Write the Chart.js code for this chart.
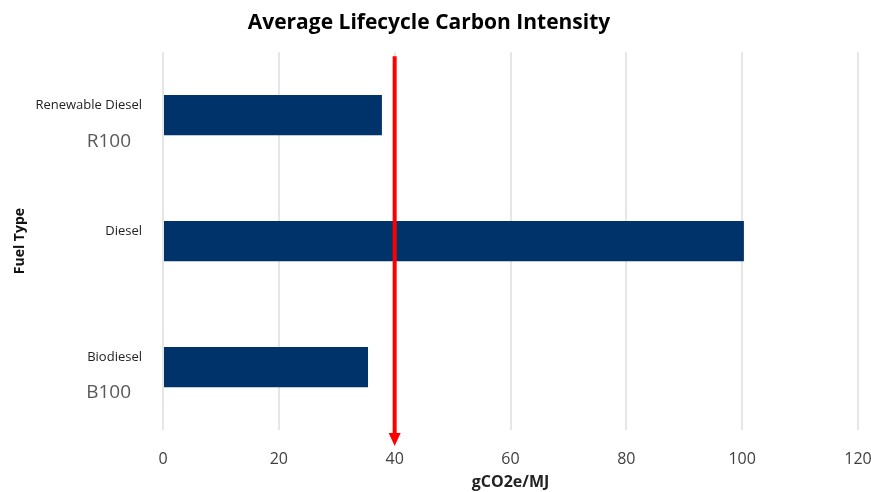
<!DOCTYPE html>
<html>
<head>
<meta charset="utf-8">
<script src="https://cdn.jsdelivr.net/npm/chart.js@4"></script>
<style>
  html, body { margin: 0; padding: 0; background: #fff; }
  #wrap { width: 871px; height: 492px; }
</style>
</head>
<body>
<div id="wrap"><canvas id="chart"></canvas></div>
<script>
const fuelTypes = ['Renewable Diesel', 'Diesel', 'Biodiesel'];
const blendLabels = ['R100', '', 'B100'];
const carbonIntensity = [37.8, 100.3, 35.4];
const targetValue = 40;
const xTicks = [0, 20, 40, 60, 80, 100, 120];

const FONT = "'Open Sans', sans-serif";

// draws the R100 / B100 labels and the red target arrow
const extras = {
  id: 'extras',
  afterDatasetsDraw(chart) {
    const ctx = chart.ctx;
    const area = chart.chartArea;
    const x = chart.scales.x;
    const y = chart.scales.y;
    ctx.save();
    ctx.font = '19px ' + FONT;
    ctx.fillStyle = '#595959';
    ctx.textAlign = 'right';
    ctx.textBaseline = 'middle';
    blendLabels.forEach((lbl, i) => {
      if (lbl) ctx.fillText(lbl, area.left - 32, y.getPixelForValue(i) + 26);
    });

    const ax = x.getPixelForValue(targetValue);
    const top = area.top + 4;
    const tip = area.bottom + 16;
    ctx.strokeStyle = '#ff0000';
    ctx.fillStyle = '#ff0000';
    ctx.lineWidth = 4;
    ctx.beginPath();
    ctx.moveTo(ax, top);
    ctx.lineTo(ax, tip - 10);
    ctx.stroke();
    ctx.beginPath();
    ctx.moveTo(ax - 6, tip - 13);
    ctx.lineTo(ax + 6, tip - 13);
    ctx.lineTo(ax, tip);
    ctx.closePath();
    ctx.fill();
    ctx.restore();
  }
};

new Chart(document.getElementById('chart'), {
  type: 'bar',
  data: {
    labels: fuelTypes,
    datasets: [{
      data: carbonIntensity,
      backgroundColor: '#00336a',
      categoryPercentage: 1,
      barPercentage: 0.32
    }]
  },
  options: {
    indexAxis: 'y',
    responsive: true,
    maintainAspectRatio: false,
    animation: false,
    layout: { padding: { top: 0, right: 13, bottom: 0, left: 0 } },
    plugins: {
      legend: { display: false },
      tooltip: { enabled: false },
      title: {
        display: true,
        text: 'Average Lifecycle Carbon Intensity',
        color: '#000',
        font: { family: FONT, size: 21, weight: 'bold' },
        padding: { top: 10, bottom: 17 }
      }
    },
    scales: {
      x: {
        min: 0,
        max: 120,
        afterBuildTicks: (scale) => { scale.ticks = xTicks.map(v => ({ value: v })); },
        afterFit: (scale) => { scale.height = 62; scale.paddingRight = 0; },
        grid: { color: '#e6e6e6', lineWidth: 2, drawTicks: false },
        border: { display: false },
        ticks: { color: '#404040', font: { family: FONT, size: 16 }, padding: 20 },
        title: {
          display: true,
          text: 'gCO2e/MJ',
          color: '#222',
          font: { family: FONT, size: 16, weight: 'bold' },
          padding: { top: 0, bottom: 0 }
        }
      },
      y: {
        grid: { display: false, drawTicks: false },
        border: { display: false },
        afterFit: (scale) => { scale.width = 163; },
        ticks: {
          color: '#222',
          font: { family: FONT, size: 13 },
          padding: 21,
          labelOffset: -10
        },
        title: {
          display: true,
          text: 'Fuel Type',
          color: '#111',
          font: { family: FONT, size: 14, weight: 'bold' },
          padding: { top: 12, bottom: 0 }
        }
      }
    }
  },
  plugins: [extras]
});
</script>
</body>
</html>
